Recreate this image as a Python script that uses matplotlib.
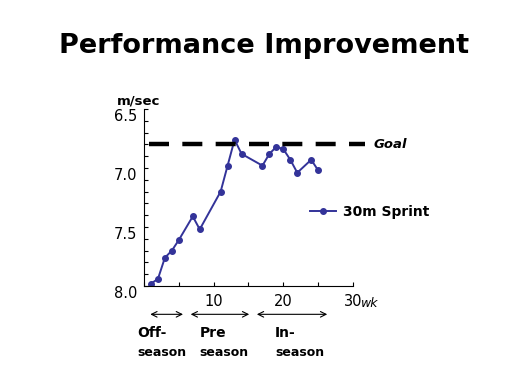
import matplotlib
matplotlib.use("Agg")
import matplotlib.pyplot as plt
from matplotlib.ticker import MultipleLocator

# 30m sprint times (m/sec axis, inverted) by week
weeks = [1, 2, 3, 4, 5, 7, 8, 11, 12, 13, 14, 17, 18, 19, 20, 21, 22, 24, 25]
sprint = [7.98, 7.94, 7.76, 7.70, 7.61, 7.41, 7.52, 7.20, 6.98, 6.76, 6.88,
          6.98, 6.88, 6.82, 6.84, 6.93, 7.04, 6.93, 7.02]
goal = 6.8
yticks = [6.5, 7.0, 7.5, 8.0]
xticks = [10, 20, 30]

# season ranges in weeks (arrows under the axis)
season_ranges = [(0.5, 6.0), (6.3, 15.5), (15.8, 26.7)]
season_top = ["Off-", "Pre", "In-"]
season_bottom = ["season", "season", "season"]

blue = "#333399"

fig = plt.figure(figsize=(5.29, 3.92), dpi=100)
W, H = 529, 392
ax = fig.add_axes([144 / W, 1 - 286 / H, (353 - 144) / W, (286 - 109) / H])

ax.plot(weeks, sprint, color=blue, lw=1.4, marker="o", ms=4, label="30m Sprint")
ax.plot([0.7, 31.7], [goal, goal], color="black", lw=3.2, dashes=(4.5, 3), clip_on=False)
ax.text(33, goal, "Goal", fontsize=9.5, fontweight="bold", fontstyle="italic",
        va="center", ha="left")

ax.set_xlim(0, 30)
ax.set_ylim(8.0, 6.5)
ax.set_xticks(xticks)
ax.set_yticks(yticks)
ax.set_yticklabels([f"{v:.1f}" for v in yticks])
ax.xaxis.set_minor_locator(MultipleLocator(5))
ax.yaxis.set_minor_locator(MultipleLocator(0.1))
ax.tick_params(which="both", direction="in", length=3, width=0.8, labelsize=10.5)
ax.tick_params(axis="y", pad=5)
ax.tick_params(axis="x", pad=6)
for lab in ax.get_yticklabels():
    lab.set_va("top")
for s in ["top", "right"]:
    ax.spines[s].set_visible(False)

ax.text(-0.13, 1.01, "m/sec", transform=ax.transAxes, fontsize=9.5, fontweight="bold",
        ha="left", va="bottom")
ax.text(1.04, -0.1, "wk", transform=ax.transAxes, fontsize=9, fontstyle="italic",
        ha="left", va="center")

ax.legend(loc="center left", bbox_to_anchor=(303 / W, 1 - 212 / H),
          bbox_transform=fig.transFigure, frameon=False, borderpad=0,
          handlelength=1.9, handletextpad=0.5, prop={"weight": "bold", "size": 10})

for (a, b), t1, t2 in zip(season_ranges, season_top, season_bottom):
    ax.annotate("", xy=(a, 8.24), xytext=(b, 8.24), annotation_clip=False,
                arrowprops=dict(arrowstyle="<->", color="black", lw=0.8))
for x0, t1, t2 in zip([-1.0, 8.0, 18.8], season_top, season_bottom):
    ax.text(x0, 8.40, t1, fontsize=10, fontweight="bold", ha="left", va="center",
            clip_on=False)
    ax.text(x0, 8.56, t2, fontsize=9, fontweight="bold", ha="left", va="center",
            clip_on=False)

fig.text(0.5, 1 - 46 / H, "Performance Improvement", fontsize=19.5, fontweight="bold",
         ha="center", va="center")

fig.savefig("out.png", dpi=100)
